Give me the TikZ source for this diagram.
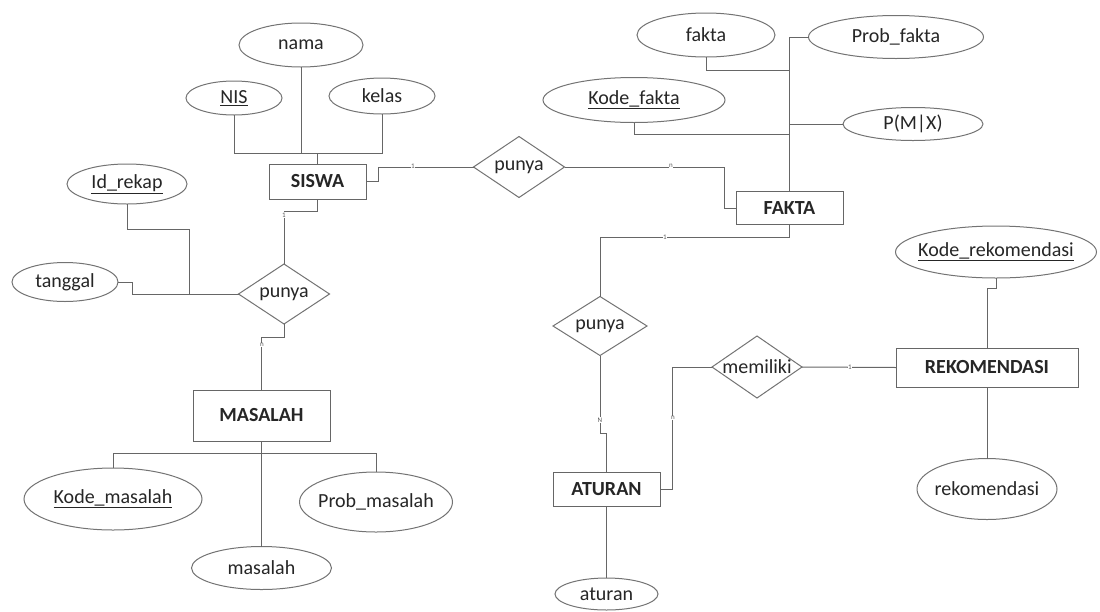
\documentclass[tikz,border=0pt]{standalone}
\usepackage{fontspec}
\setmainfont{Carlito}
\usetikzlibrary{shapes.geometric,calc}
\newcommand{\zt}[1]{\makebox[0pt][c]{#1}}
\begin{document}
\begin{tikzpicture}[x=1pt,y=-1pt,
  every node/.style={inner sep=0pt, outer sep=0pt, text=black!85, font=\fontsize{20}{23}\selectfont},
  ent/.style={draw=black!60, line width=1pt, rectangle, fill=white, font=\bfseries\fontsize{20}{23}\selectfont},
  attr/.style={draw=black!55, line width=1pt, ellipse, fill=white},
  rel/.style={draw=black!55, line width=1pt, diamond, fill=white},
  conn/.style={draw=black!60, line width=1pt},
  card/.style={font=\fontsize{7}{8}\selectfont, fill=white, inner sep=0.4pt, text=black!65}]
\useasboundingbox (0,0) rectangle (1100,611);

% entities
\node[ent, minimum width=97pt, minimum height=35pt] (siswa) at (317.5,181.5) {\zt{SISWA}};
\node[ent, minimum width=107pt, minimum height=33pt] (fakta) at (789.5,208) {\zt{FAKTA}};
\node[ent, minimum width=137pt, minimum height=51pt] (masalah) at (261.5,415.5) {\zt{MASALAH}};
\node[ent, minimum width=107pt, minimum height=34pt] (aturan) at (606.5,489) {\zt{ATURAN}};
\node[ent, minimum width=182pt, minimum height=39pt] (rek) at (987,367.5) {\zt{REKOMENDASI}};

% relationships
\node[rel, minimum width=91pt, minimum height=60pt] (p1) at (284,294) {\zt{punya}};
\node[rel, minimum width=91pt, minimum height=61pt] (p2) at (519,167) {\zt{punya}};
\node[rel, minimum width=94pt, minimum height=59pt] (p3) at (600,326) {\zt{punya}};
\node[rel, minimum width=90pt, minimum height=62pt] (mem) at (757,367) {\zt{memiliki}};

% attributes
\node[attr, minimum width=124pt, minimum height=44pt] (anama) at (301,45) {\zt{nama}};
\node[attr, minimum width=96pt, minimum height=34pt] (anis) at (234,98) {\zt{\underline{NIS}}};
\node[attr, minimum width=106pt, minimum height=36pt] (akelas) at (382,96) {\zt{kelas}};
\node[attr, minimum width=120pt, minimum height=40pt] (aidrekap) at (127,184) {\zt{\underline{Id\_rekap}}};
\node[attr, minimum width=106pt, minimum height=39pt] (atanggal) at (65,282) {\zt{tanggal}};
\node[attr, minimum width=178pt, minimum height=62pt] (akodem) at (113,499) {\zt{\underline{Kode\_masalah}}};
\node[attr, minimum width=153pt, minimum height=60pt] (aprobm) at (376,502) {\zt{Prob\_masalah}};
\node[attr, minimum width=140pt, minimum height=43pt] (amasalah) at (261.5,568) {\zt{masalah}};
\node[attr, minimum width=138pt, minimum height=44pt] (afakta) at (706,35) {\zt{fakta}};
\node[attr, minimum width=175pt, minimum height=43pt] (aprobf) at (896,37) {\zt{Prob\_fakta}};
\node[attr, minimum width=182pt, minimum height=45pt] (akodef) at (634,100) {\zt{\underline{Kode\_fakta}}};
\node[attr, minimum width=140pt, minimum height=33pt] (apmx) at (913,124) {\zt{P(M|X)}};
\node[attr, minimum width=201pt, minimum height=52pt] (akoder) at (996,252) {\zt{\underline{Kode\_rekomendasi}}};
\node[attr, minimum width=140pt, minimum height=61pt] (arek) at (987,489) {\zt{rekomendasi}};
\node[attr, minimum width=103pt, minimum height=32pt] (aaturan) at (606.5,594) {\zt{aturan}};

% junction points
\coordinate (sj) at (317.5,153);
\coordinate (rj) at (189,294);
\coordinate (mj) at (261.5,453);
\coordinate (fj1) at (789.5,70);
\coordinate (fj2) at (789.5,134);

% SISWA attributes
\draw[conn] (anis.south) |- (sj);
\draw[conn] (akelas.south) |- (sj);
\draw[conn] (anama.south) -- (anama.south |- sj);
\draw[conn] (sj) -- (siswa.north);

% punya1 attributes and links
\draw[conn] (aidrekap.south) -- ++(0,25) -| (rj);
\draw[conn] (atanggal.east) -- ++(14,0) |- (p1.west);
\draw[conn] (siswa.south) -- ++(0,12) -| (p1.north);
\draw[conn] (p1.south) -- ++(0,13) -| (masalah.north);

% MASALAH attributes
\draw[conn] (masalah.south) -- (amasalah.north);
\draw[conn] (akodem.north) |- (mj);
\draw[conn] (aprobm.north) |- (mj);

% SISWA - punya2 - FAKTA
\draw[conn] (siswa.east) -- ++(12,0) |- (p2.west);
\draw[conn] (p2.east) -| ([xshift=-12pt]fakta.west) -- (fakta.west);

% FAKTA attributes
\draw[conn] (fakta.north) |- (aprobf.west);
\draw[conn] (afakta.south) |- (fj1);
\draw[conn] (akodef.south) |- (fj2);
\draw[conn] (apmx.west) -- (apmx.west -| fakta.north);

% FAKTA - punya3 - ATURAN
\draw[conn] (fakta.south) -- ++(0,13) -| (p3.north);
\draw[conn] (p3.south) -- ++(0,78) -| (aturan.north);
\draw[conn] (aturan.south) -- (aaturan.north);

% ATURAN - memiliki - REKOMENDASI
\draw[conn] (mem.west) -| ([xshift=12pt]aturan.east) -- (aturan.east);
\draw[conn] (mem.east) -- (rek.west);
\draw[conn] (akoder.south) -- ++(0,10) -| (rek.north);
\draw[conn] (rek.south) -- (arek.north);

% cardinalities
\node[card] (c1) at (413,166) {1};
\node[card] (c2) at (671,166) {n};
\node[card] (c3) at (284,215) {1};
\node[card] (c4) at (262,345) {n};
\node[card] (c5) at (665,237) {1};
\node[card] (c6) at (600,420) {N};
\node[card] (c7) at (673,418) {n};
\node[card] (c8) at (850,367) {1};
\end{tikzpicture}
\end{document}
